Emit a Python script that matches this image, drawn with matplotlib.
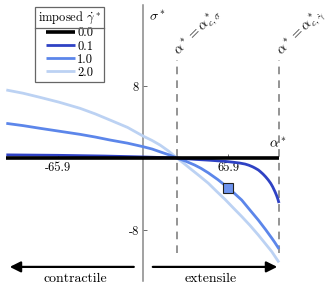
import matplotlib
matplotlib.use("Agg")
import matplotlib.pyplot as plt
from matplotlib.lines import Line2D

plt.rcParams['font.family'] = ['cmr10', 'DejaVu Serif']
plt.rcParams['mathtext.fontset'] = 'cm'
plt.rcParams['axes.unicode_minus'] = False

# curves (alpha*, sigma*)
rates = ['0.0', '0.1', '1.0', '2.0']
colors = ['#000000', '#2f42c4', '#5c86ea', '#bcd2f3']
widths = [2.6, 2.0, 2.0, 2.0]

x_00 = [-106.0, 105.4]
y_00 = [0.0, 0.0]

x_01 = [-106.0, -66.0, -30.0, 0.0, 26.3, 40.3, 52.0, 63.6, 70.0, 75.0, 79.1, 82.0, 85.0,
        87.0, 89.4, 91.0, 93.0, 95.0, 97.1, 99.0, 100.5, 102.3, 103.5, 104.5, 105.4]
y_01 = [0.35, 0.30, 0.22, 0.12, 0.0, -0.15, -0.25, -0.37, -0.47, -0.56, -0.67, -0.8, -0.98,
        -1.13, -1.33, -1.52, -1.78, -2.08, -2.44, -2.82, -3.2, -3.74, -4.15, -4.55, -5.0]

x_10 = [-106.0, -93.0, -79.8, -65.0, -48.8, -37.0, -25.6, -12.0, 0.0, 7.0, 13.0, 20.0, 26.3,
        33.0, 40.0, 45.0, 50.6, 58.0, 65.9, 71.0, 76.5, 83.0, 89.4, 95.0, 99.8, 102.0, 105.4]
y_10 = [3.85, 3.6, 3.3, 2.98, 2.63, 2.33, 2.0, 1.65, 1.26, 1.0, 0.7, 0.36, 0.0,
        -0.35, -0.78, -1.15, -1.65, -2.4, -3.3, -3.95, -4.67, -5.8, -6.9, -7.95, -8.9, -9.35, -10.1]

x_20 = [-106.0, -93.0, -79.8, -65.0, -48.8, -37.0, -25.6, -12.0, 0.0, 7.0, 13.2, 20.0, 26.3,
        32.0, 37.7, 44.0, 50.6, 57.0, 63.6, 70.0, 76.5, 83.0, 89.4, 95.0, 99.8, 105.4]
y_20 = [7.56, 7.2, 6.74, 6.2, 5.52, 4.9, 4.22, 3.4, 2.44, 1.95, 1.44, 0.75, 0.0,
        -0.64, -1.3, -2.02, -2.8, -3.7, -4.6, -5.55, -6.5, -7.5, -8.56, -9.55, -10.4, -11.6]

curves_x = [x_00, x_01, x_10, x_20]
curves_y = [y_00, y_01, y_10, y_20]

marker_x = [65.9]
marker_y = [-3.3]

crit_x = [26.3, 105.4]
crit_labels = [r'$\alpha^* = \alpha^*_{c,\sigma}$', r'$\alpha^* = \alpha^*_{c,\dot{\gamma}}$']

xtick_vals = [-65.9, 65.9]
xtick_labels = ['-65.9', '65.9']
ytick_vals = [-8, 8]
ytick_labels = ['-8', '8']

fig = plt.figure(figsize=(3.32, 2.84), dpi=100)
ax = fig.add_axes([0, 0, 1, 1])
ax.set_xlim(-110.9, 146.5)
ax.set_ylim(-14.0, 17.56)
ax.patch.set_alpha(0)

# curves, lower ones first so black sits on top
for i in range(len(rates)):
    ax.plot(curves_x[i], curves_y[i], color=colors[i], lw=widths[i],
            label=rates[i], zorder=10 - i, solid_capstyle='butt', solid_joinstyle='round')

ax.plot(marker_x, marker_y, 's', ms=7, mfc='#6e94ef', mec='#222222', mew=0.8, zorder=12)

# critical alphas
for xc, lab in zip(crit_x, crit_labels):
    ax.plot([xc, xc], [-10.6, 10.9], color='#777777', lw=1.1, dashes=(5, 4), zorder=1)
    ax.text(xc + 0.5, 11.5, lab, rotation=45, rotation_mode='anchor',
            ha='left', va='center', fontsize=10)

# axes
for s in ['top', 'right']:
    ax.spines[s].set_visible(False)
ax.spines['left'].set_position(('data', 0))
ax.spines['left'].set_bounds(-13.7, 17.0)
ax.spines['left'].set_color('#888888')
ax.spines['left'].set_linewidth(1.1)
ax.spines['bottom'].set_position(('data', 0))
ax.spines['bottom'].set_color('none')

ax.set_xticks(xtick_vals)
ax.set_xticklabels(xtick_labels)
ax.set_yticks(ytick_vals)
ax.set_yticklabels(ytick_labels)
ax.tick_params(axis='both', direction='in', length=3, width=0.6, labelsize=9, color='#555555')
ax.tick_params(axis='x', pad=3)
ax.tick_params(axis='y', pad=3)

ax.text(5.0, 15.7, r'$\sigma^*$', fontsize=10, ha='left', va='center')
ax.text(98.0, 1.6, r'$\alpha^*$', fontsize=10, ha='left', va='center')

# direction arrows
ax.annotate('', xy=(-105.5, -12.1), xytext=(-5.0, -12.1),
            arrowprops=dict(arrowstyle='-|>', color='black', lw=1.6, mutation_scale=16))
ax.annotate('', xy=(106.2, -12.1), xytext=(5.4, -12.1),
            arrowprops=dict(arrowstyle='-|>', color='black', lw=1.6, mutation_scale=16))
ax.text(-52.7, -13.4, 'contractile', fontsize=10, ha='center', va='center')
ax.text(52.7, -13.4, 'extensile', fontsize=10, ha='center', va='center')

leg = ax.legend(loc='upper left', bbox_to_anchor=(35 / 332, 1 - 7 / 284),
                bbox_transform=fig.transFigure, borderaxespad=0,
                title=r'imposed $\dot{\gamma}^*$', fontsize=9, title_fontsize=9,
                handlelength=2.3, handletextpad=0.2, labelspacing=0.08,
                fancybox=False, edgecolor='#666666', framealpha=1,
                borderpad=0.25, alignment='center')
leg.get_frame().set_linewidth(0.9)
leg.set_zorder(20)

# separator line under the legend title
fig.canvas.draw()
fb = leg.get_frame().get_window_extent()
tb = leg.get_title().get_window_extent()
ysep = (tb.y0 - 2) / fig.bbox.height
fig.add_artist(Line2D([fb.x0 / fig.bbox.width, fb.x1 / fig.bbox.width], [ysep, ysep],
                      color='#666666', lw=0.9, zorder=21))

fig.savefig('out.png', dpi=100)
